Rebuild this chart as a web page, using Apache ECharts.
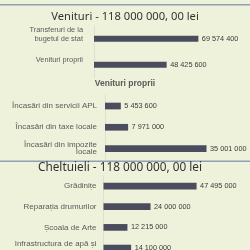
<!DOCTYPE html>
<html><head><meta charset="utf-8">
<script src="https://cdn.jsdelivr.net/npm/echarts@6/dist/echarts.min.js"></script>
<style>html,body{margin:0;padding:0;background:#eff2da;overflow:hidden}#c{width:250px;height:262px}</style>
</head><body><div id="c"></div>
<script>
const titleVenituri = 'Venituri - 118 000 000, 00 lei';
const titleProprii = 'Venituri proprii';
const titleCheltuieli = 'Cheltuieli - 118 000 000, 00 lei';
const venituriCats = ['Transferuri de la\nbugetul de stat', 'Venituri proprii'];
const venituriVals = [69574400, 48425600];
const propriiCats = ['Încasări din servicii APL', 'Încasări din taxe locale', 'Încasări din impozite\nlocale'];
const propriiVals = [5453600, 7971000, 35001000];
const cheltCats = ['Grădinițe', 'Reparația drumurilor', 'Școala de Arte', 'Infrastructura de apă și\ncanalizare'];
const cheltVals = [47495000, 24000000, 12215000, 14100000];

const fmt = v => String(v).replace(/\B(?=(\d{3})+(?!\d))/g, ' ');
const barColor = '#4b4c5e';
const chart = echarts.init(document.getElementById('c'), null, {renderer: 'canvas'});

function xAx(i, max) {
  return {gridIndex: i, type: 'value', min: 0, max: max, show: false, splitLine: {show: false}};
}
function yAx(i, cats, fs, lh, margin, lift) {
  return {gridIndex: i, type: 'category', data: cats, inverse: true,
    axisLine: {show: true, lineStyle: {color: '#dde0cc', width: 1}},
    axisTick: {show: false},
    axisLabel: {fontSize: fs, lineHeight: lh, color: '#5a5a5a', fontFamily: '"Liberation Sans", Arial, sans-serif', margin: margin,
      formatter: lift ? (v => v + '\n ') : (v => v)}};
}
function ser(i, vals, bw) {
  return {type: 'bar', xAxisIndex: i, yAxisIndex: i, data: vals, barWidth: bw,
    itemStyle: {color: barColor}, silent: true,
    label: {show: true, position: 'right', distance: 3.5, fontSize: 7.3, color: '#3a3a3a',
      fontFamily: '"Liberation Sans", Arial, sans-serif', formatter: p => fmt(p.value)}};
}

chart.setOption({
  backgroundColor: '#eff2da',
  animation: false,
  grid: [
    {left: 94, width: 120, top: 25.7, height: 52},
    {left: 105, width: 116, top: 95.4, height: 63.75},
    {left: 103.5, width: 117.6, top: 175.7, height: 82.7}
  ],
  xAxis: [xAx(0, 80000000), xAx(1, 40000000), xAx(2, 60000000)],
  yAxis: [
    yAx(0, venituriCats, 7.4, 9, 11, true),
    yAx(1, propriiCats, 8, 7.5, 8, false),
    yAx(2, cheltCats, 8, 8.5, 7, false)
  ],
  series: [ser(0, venituriVals, 6), ser(1, propriiVals, 6.7), ser(2, cheltVals, 6.7)],
  graphic: [
    {type: 'line', shape: {x1: 0, y1: 4.75, x2: 250, y2: 4.75}, style: {stroke: '#8fa2b4', lineWidth: 1.5}},
    {type: 'line', shape: {x1: 0, y1: 161.25, x2: 250, y2: 161.25}, style: {stroke: '#8fa2b4', lineWidth: 1.5}},
    {type: 'text', x: 125, y: 16.5, style: {text: titleVenituri, align: 'center', verticalAlign: 'middle', fontSize: 11.2, fontFamily: '"Noto Sans"', fill: '#333333'}},
    {type: 'text', x: 125, y: 84, style: {text: titleProprii, align: 'center', verticalAlign: 'middle', fontSize: 8.5, fontWeight: 'bold', fontFamily: '"Liberation Sans"', fill: '#5a5a5a'}},
    {type: 'text', x: 120, y: 168, style: {text: titleCheltuieli, align: 'center', verticalAlign: 'middle', fontSize: 11.8, fontFamily: '"Noto Sans"', fill: '#333333'}}
  ]
});
</script></body></html>
